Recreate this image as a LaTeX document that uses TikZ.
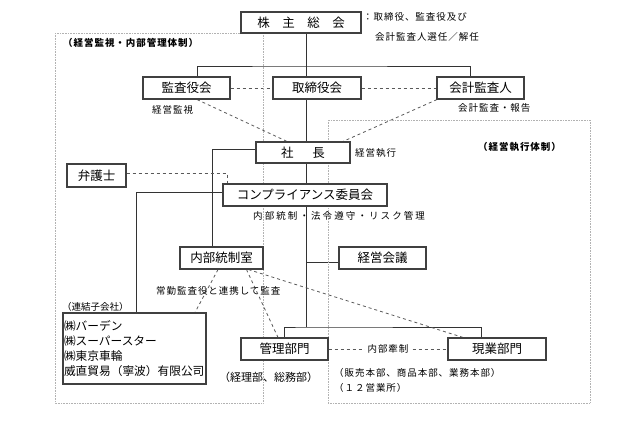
\documentclass[tikz,border=0pt]{standalone}
\usepackage{fontspec}
\setmainfont{Noto Sans CJK JP}
\newfontfamily\lblfont[LetterSpace=10]{Noto Sans CJK JP}
\usetikzlibrary{backgrounds}
\tikzset{
  box/.style={draw=black!75, line width=1.1pt, fill=white, inner sep=0pt,
    font=\fontsize{12.5}{14}\selectfont},
  conn/.style={draw=black!80, line width=0.9pt},
  dsh/.style={draw=black!65, line width=0.8pt, dash pattern=on 3pt off 3pt},
  region/.style={draw=black!30, line width=0.6pt, densely dotted},
  lbl/.style={inner sep=0pt, anchor=west, font=\fontsize{9.5}{11}\lblfont},
  blbl/.style={inner sep=0pt, anchor=west, font=\fontsize{9.5}{11}\lblfont\bfseries},
}
\begin{document}
\begin{tikzpicture}[x=1pt, y=-1pt]
\useasboundingbox (0,0) rectangle (622,447);
% regions
\draw[region] (55,33) rectangle (263,403);
\draw[region] (328,120) rectangle (590,403);
% nodes
\node[box, minimum width=120pt, minimum height=21pt] (kabu) at (301,22.5) {株\quad 主\quad 総\quad 会};
\node[box, minimum width=87pt, minimum height=22pt] (kansa) at (186.5,88) {監査役会};
\node[box, minimum width=88pt, minimum height=22pt] (tori) at (317,88) {取締役会};
\node[box, minimum width=87pt, minimum height=22pt] (kaikei) at (480.5,88) {会計監査人};
\node[box, minimum width=94pt, minimum height=21pt] (shacho) at (303,152.5) {社\quad\enspace 長};
\node[box, minimum width=59pt, minimum height=23pt] (bengo) at (96.5,175.5) {弁護士};
\node[box, minimum width=164pt, minimum height=22pt] (comp) at (305,195) {コンプライアンス委員会};
\node[box, minimum width=83pt, minimum height=22pt] (naibu) at (221.5,258) {内部統制室};
\node[box, minimum width=87pt, minimum height=22pt] (keiei) at (382.5,258) {経営会議};
\node[box, minimum width=87pt, minimum height=22pt] (kanri) at (284.5,349) {管理部門};
\node[box, minimum width=98pt, minimum height=22pt] (genba) at (497,349) {現業部門};
\node[box, minimum width=143pt, minimum height=71pt, align=left, text width=141pt,
  font=\fontsize{11.7}{15}\selectfont] (renketsu) at (134.5,348.5)
  {㈱バーデン\\㈱スーパースター\\㈱東京車輪\\威直貿易（寧波）有限公司};
% coordinates
\coordinate (tx) at (306,0);
\coordinate (j1) at (306,66);
\coordinate (j2) at (306,327);
% labels
\node[lbl] (l1) at (363,17) {：取締役、監査役及び};
\node[lbl] (l2) at (375,37) {会計監査人選任／解任};
\node[blbl] (l3) at (63,43) {（経営監視・内部管理体制）};
\node[lbl] (l4) at (152,110) {経営監視};
\node[lbl] (l5) at (458,108) {会計監査・報告};
\node[lbl] (l6) at (355,153) {経営執行};
\node[blbl] (l7) at (478,147) {（経営執行体制）};
\node[lbl, font=\fontsize{9.5}{11}\lblfont\addfontfeatures{LetterSpace=22}] (l8) at (253,216) {内部統制・法令遵守・リスク管理};
\node[lbl] (l9) at (156,291) {常勤監査役と連携して監査};
\node[inner sep=0pt, anchor=west, font=\fontsize{9.5}{11}\selectfont] (l10) at (62,307) {（連結子会社）};
\node[inner sep=0pt, anchor=west, font=\fontsize{11}{13}\selectfont] (l11) at (219,377) {（経理部、総務部）};
\node[lbl] (l12) at (334,373) {（販売本部、商品本部、業務本部）};
\node[lbl] (l13) at (334,388) {（１２営業所）};
% connectors
\begin{scope}[on background layer]
\draw[conn] (kabu.south -| tx) -- (j2);
\draw[conn] ([xshift=10.5pt]kansa.north) |- (j1) -| ([xshift=-10.5pt]kaikei.north);
\draw[conn] ([yshift=3.5pt]shacho.west) -| ([xshift=-9.5pt]naibu.north);
\draw[conn] ([yshift=3pt]comp.west) -| ([xshift=1.5pt]renketsu.north);
\draw[conn] ([yshift=-4pt]keiei.west) -- ([yshift=-4pt]keiei.west -| tx);
\draw[conn] (kanri.north) |- (j2) -| ([xshift=-16pt]genba.north);
\draw[dsh] (kansa.east) -- (tori.west);
\draw[dsh] (tori.east) -- (kaikei.west);
\draw[dsh] ([xshift=10.5pt]kansa.south) -- ([xshift=-16pt]shacho.north);
\draw[dsh] ([xshift=-43.5pt]kaikei.south) -- ([xshift=40pt]shacho.north);
\draw[dsh] ([yshift=2.5pt]bengo.east) -| ([xshift=-78pt]comp.north);
\draw[dsh] ([xshift=-3.5pt]naibu.south) -- ([xshift=60.5pt]renketsu.north);
\draw[dsh] ([xshift=25pt]naibu.south) -- ([xshift=-6.5pt]kanri.north);
\draw[dsh] ([xshift=27pt]naibu.south) -- ([xshift=-34pt]genba.north);
\draw[dsh] (kanri.east) -- (genba.west) node[midway, fill=white, inner sep=3pt, font=\fontsize{9.5}{11}\lblfont] (l14) {内部牽制};
\end{scope}
\end{tikzpicture}
\end{document}
